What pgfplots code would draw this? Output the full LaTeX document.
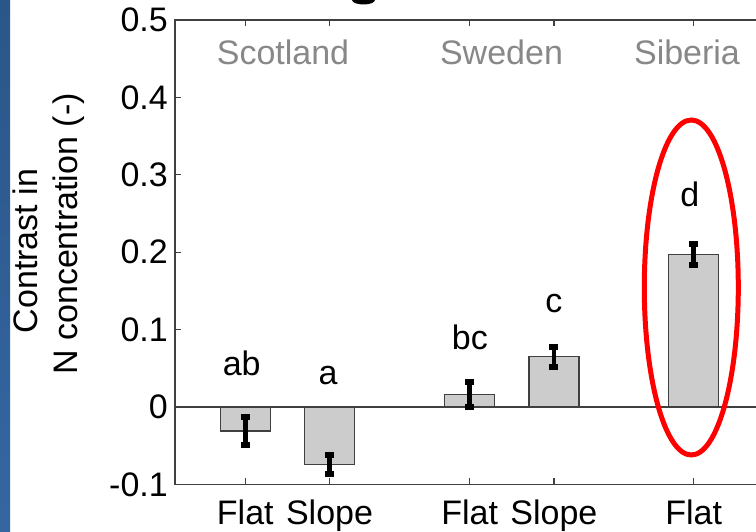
\documentclass[border=0pt]{standalone}
\usepackage{fontspec}
\setmainfont{Liberation Sans}
\usepackage{pgfplots}
\usepackage{pgfplotstable}
\pgfplotsset{compat=1.18}
\definecolor{framegray}{HTML}{404040}
\definecolor{barfill}{HTML}{CCCCCC}
\definecolor{grouplab}{HTML}{888888}
\definecolor{slideblueA}{HTML}{2B5688}
\definecolor{slideblueB}{HTML}{3467A2}
\pgfplotstableread{
x y err
1 -0.031 0.018
2 -0.074 0.0125
3.665 0.0164 0.016
4.665 0.065 0.013
6.325 0.197 0.0135
}\datatable
\newcommand{\bigfont}{\fontsize{34}{40}\selectfont}
\begin{document}
\begin{tikzpicture}[x=1pt,y=1pt]
\useasboundingbox (0,0) rectangle (756,532);
\clip (0,0) rectangle (756,532);
\fill[white] (0,0) rectangle (756,532);
\shade[top color=slideblueA, bottom color=slideblueB] (0,0) rectangle (10,532);
% fragment of the cut-off slide title
\fill[black] (363.5,532) ellipse [x radius=11.5, y radius=4.5];
\begin{axis}[
  at={(175pt,47.5pt)}, anchor=south west,
  scale only axis, width=617.6pt, height=464.5pt,
  xmin=0.165, xmax=7.5, ymin=-0.1, ymax=0.5,
  axis line style={framegray, line width=1.2pt},
  tick style={framegray, line width=1.2pt},
  major tick length=6pt,
  tick align=inside,
  xtick={1,2,3.665,4.665,6.325},
  xticklabels={Flat,Slope,Flat,Slope,Flat},
  ytick={-0.1,0,0.1,0.2,0.3,0.4,0.5},
  yticklabels={-0.1,0,0.1,0.2,0.3,0.4,0.5},
  ticklabel style={font=\bigfont},
  yticklabel style={anchor=east, inner xsep=7pt, inner ysep=0pt},
  xticklabel style={anchor=base, yshift=-40.5pt, inner sep=0pt},
  clip=false,
]
\addplot[ybar, bar width=50pt, bar shift=0pt, fill=barfill, draw=framegray, line width=1.2pt]
  table[x=x, y=y] {\datatable};
\addplot[framegray, line width=1.2pt, forget plot] coordinates {(0.165,0) (7.5,0)};
\addplot[draw=none, mark=none,
  error bars/.cd, y dir=both, y explicit,
  error bar style={draw=black, solid, line width=4.5pt},
  error mark=-,
  error mark options={rotate=90, mark size=4.5pt, line width=6pt, draw=black}]
  table[x=x, y=y, y error=err] {\datatable};
\node[anchor=base, inner sep=0pt, font=\bigfont] at (axis cs:0.957,0.0406) {ab};
\node[anchor=base, inner sep=0pt, font=\bigfont] at (axis cs:1.982,0.0298) {a};
\node[anchor=base, inner sep=0pt, font=\bigfont] at (axis cs:3.668,0.0738) {bc};
\node[anchor=base, inner sep=0pt, font=\bigfont] at (axis cs:4.665,0.1224) {c};
\node[anchor=base, inner sep=0pt, font=\bigfont] at (axis cs:6.28,0.2588) {d};
\end{axis}
\node[anchor=base, inner sep=0pt, text=grouplab, font=\bigfont] at (283,467.5) {Scotland};
\node[anchor=base, inner sep=0pt, text=grouplab, font=\bigfont] at (501.5,467.5) {Sweden};
\node[anchor=base, inner sep=0pt, text=grouplab, font=\bigfont] at (687,467.5) {Siberia};
\node[rotate=90, anchor=base, inner sep=0pt, font=\bigfont] at (37,281) {Contrast in};
\node[rotate=90, anchor=base, inner sep=0pt, font=\bigfont] at (77,298) {N concentration (-)};
\draw[red, line width=5pt] (691.3,244.5) ellipse [x radius=47, y radius=167.5];
\end{tikzpicture}
\end{document}
